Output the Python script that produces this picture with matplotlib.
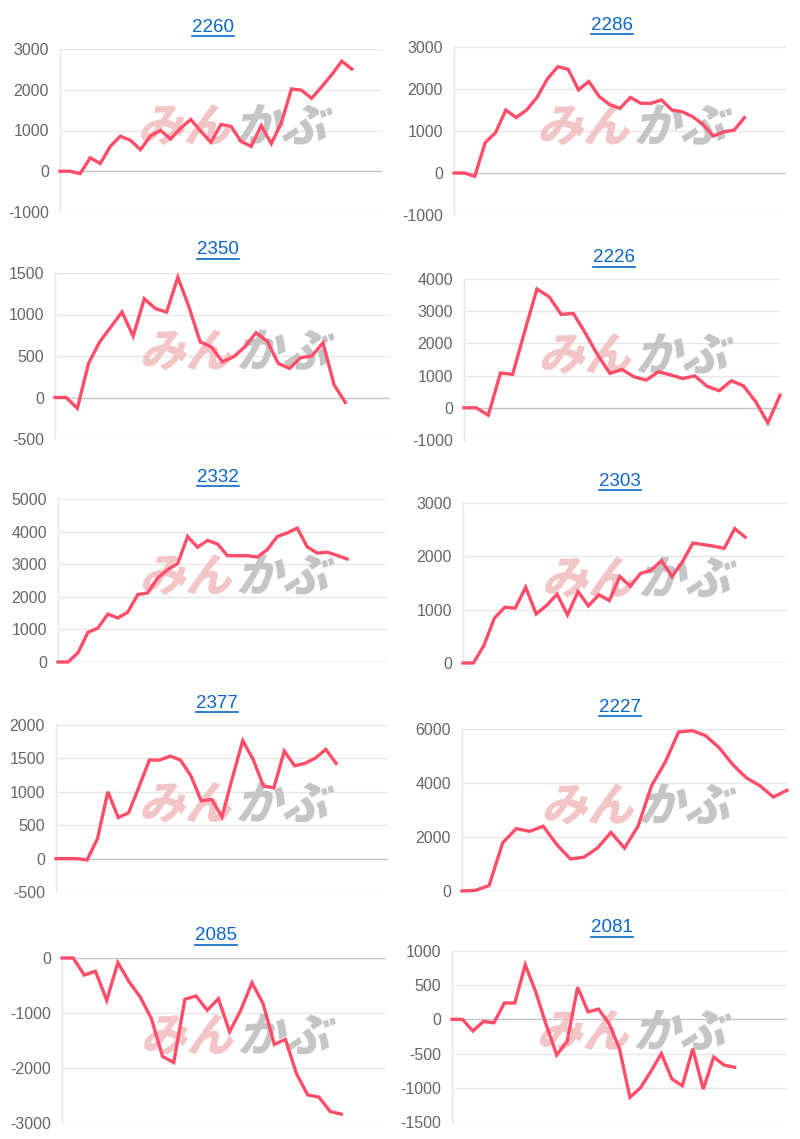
import matplotlib
matplotlib.use("Agg")
import matplotlib.pyplot as plt
from matplotlib.textpath import TextPath
from matplotlib.patches import PathPatch
from matplotlib.font_manager import FontProperties
from matplotlib.transforms import Affine2D

# --- data: one list per chart (cumulative values), x = category index ---
titles = ["2260", "2286", "2350", "2226", "2332", "2303", "2377", "2227", "2085", "2081"]

n_labels = [33, 33, 31, 27, 34, 32, 33, 25, 30, 33]

v2260 = [0, 0, -60, 330, 190, 610, 860, 760, 530, 870, 1000, 790, 1060, 1270, 980,
         710, 1150, 1100, 730, 610, 1120, 680, 1190, 2020, 1990, 1790, 2070, 2370, 2700, 2510]
v2286 = [0, 0, -80, 720, 960, 1500, 1320, 1500, 1800, 2240, 2530, 2470, 1980, 2180, 1820,
         1630, 1540, 1800, 1660, 1660, 1740, 1500, 1460, 1340, 1160, 880, 980, 1020, 1320]
v2350 = [0, 0, -130, 410, 670, 850, 1030, 740, 1190, 1070, 1030, 1450, 1090, 670, 610,
         430, 490, 610, 780, 680, 410, 350, 480, 500, 660, 150, -60]
v2226 = [0, 0, -230, 1080, 1040, 2380, 3690, 3450, 2900, 2930, 2310, 1640, 1070, 1190,
         960, 860, 1120, 1020, 910, 990, 670, 530, 840, 680, 190, -470, 390]
v2332 = [0, 0, 280, 910, 1040, 1470, 1350, 1530, 2070, 2120, 2580, 2830, 3020, 3850, 3520,
         3730, 3620, 3260, 3260, 3260, 3220, 3450, 3850, 3960, 4110, 3530, 3340, 3370, 3270, 3160]
v2303 = [0, 0, 330, 840, 1045, 1030, 1420, 920, 1080, 1290, 900, 1340, 1070, 1280, 1170,
         1620, 1440, 1680, 1740, 1920, 1620, 1900, 2250, 2220, 2190, 2150, 2520, 2360]
v2377 = [0, 0, 0, -20, 300, 1000, 615, 685, 1075, 1475, 1475, 1535, 1475, 1240, 865, 885,
         625, 1210, 1765, 1485, 1085, 1060, 1610, 1390, 1425, 1505, 1635, 1425]
v2227 = [0, 25, 200, 1780, 2310, 2210, 2400, 1720, 1190, 1250, 1590, 2170, 1590, 2400,
         3900, 4770, 5890, 5940, 5750, 5300, 4680, 4190, 3900, 3480, 3730]
v2085 = [0, 0, -310, -240, -770, -85, -430, -710, -1100, -1790, -1900, -750, -690, -950,
         -740, -1340, -950, -450, -830, -1570, -1480, -2110, -2490, -2530, -2790, -2840]
v2081 = [0, 0, -170, -30, -50, 240, 240, 800, 400, -80, -520, -320, 470, 110, 150, -60,
         -430, -1140, -1000, -760, -500, -870, -970, -430, -1020, -550, -670, -700]

series = [v2260, v2286, v2350, v2226, v2332, v2303, v2377, v2227, v2085, v2081]

yticks = [
    [-1000, 0, 1000, 2000, 3000],
    [-1000, 0, 1000, 2000, 3000],
    [-500, 0, 500, 1000, 1500],
    [-1000, 0, 1000, 2000, 3000, 4000],
    [0, 1000, 2000, 3000, 4000, 5000],
    [0, 1000, 2000, 3000],
    [-500, 0, 500, 1000, 1500, 2000],
    [0, 2000, 4000, 6000],
    [-3000, -2000, -1000, 0],
    [-1500, -1000, -500, 0, 500, 1000],
]

# --- layout in pixels: plot x0, x1, y of top tick, y of bottom tick ---
W, H = 800, 1139
rects = [
    (60, 382, 49, 212), (454, 786, 47, 215),
    (55, 390, 273, 439), (464, 780, 279, 440),
    (58, 387, 499, 662), (463, 787, 503, 663),
    (56, 388, 725, 892), (462, 787, 729, 891),
    (62, 386, 958, 1123), (452, 787, 951, 1122),
]
title_pos = [(213, 27), (612, 25), (218, 250), (614, 258), (218, 477),
             (620, 481), (217, 703), (620, 707), (216, 936), (612, 928)]

LINE = "#ff4d6a"
LINK = "#0b66cc"
GRID = "#e6e6e6"
TICK = "#666666"

plt.rcParams["font.family"] = ["Liberation Sans", "DejaVu Sans"]

fig = plt.figure(figsize=(W / 100, H / 100), dpi=100)
fig.patch.set_facecolor("white")

jp = FontProperties(family="Noto Sans CJK JP", weight=900)


def watermark(ax, cx, cy):
    # "みんかぶ" logo, drawn in display pixels behind the line
    size = 46
    skew = Affine2D().skew_deg(14, 0)
    p1 = TextPath((0, 0), "みん", size=size, prop=jp)
    p2 = TextPath((0, 0), "かぶ", size=size, prop=jp)
    w1 = p1.get_extents().width
    w2 = p2.get_extents().width
    gap = 8
    total = w1 + gap + w2
    left = cx - total / 2
    base = cy - size * 0.38
    for path, dx, col in [(p1, 0, "#f2c2c3"), (p2, w1 + gap, "#c2c2c2")]:
        tr = skew + Affine2D().translate(left + dx, base)
        patch = PathPatch(path, facecolor=col, edgecolor="none", alpha=0.95,
                          transform=tr, zorder=1, clip_on=False)
        ax.add_artist(patch)


for i in range(len(titles)):
    x0, x1, yt, yb = rects[i]
    ax = fig.add_axes([x0 / W, 1 - yb / H, (x1 - x0) / W, (yb - yt) / H])
    vals = series[i]
    ax.plot(range(len(vals)), vals, color=LINE, lw=2.4, solid_joinstyle="miter",
            zorder=3, clip_on=False)
    ticks = yticks[i]
    ax.set_xlim(0, n_labels[i] - 1)
    ax.set_ylim(ticks[0], ticks[-1])
    ax.set_yticks(ticks)
    ax.set_yticklabels([str(t) for t in ticks])
    ax.set_xticks([])
    ax.tick_params(axis="y", length=0, pad=8, labelsize=11.5, labelcolor=TICK)
    for t in ticks:
        ax.axhline(t, color="#c4c4c4" if t == 0 else GRID, lw=1, zorder=0)
    for s in ["top", "right", "bottom"]:
        ax.spines[s].set_visible(False)
    ax.spines["left"].set_color(GRID)
    ax.spines["left"].set_linewidth(1)
    ax.patch.set_alpha(0)

    cx = x0 + 0.53 * (x1 - x0)
    cy = H - (yt + 0.46 * (yb - yt))
    watermark(ax, cx, cy)

    tx, ty = title_pos[i]
    txt = fig.text(tx / W, 1 - ty / H, titles[i], ha="center", va="center",
                   fontsize=13.5, color=LINK)
    fig.canvas.draw()
    bb = txt.get_window_extent()
    uy = bb.y0 - 0.5
    fig.add_artist(plt.Line2D([bb.x0 / W, bb.x1 / W], [uy / H, uy / H],
                              color=LINK, lw=1.2, transform=fig.transFigure))

fig.savefig("out.png", dpi=100, facecolor="white")
